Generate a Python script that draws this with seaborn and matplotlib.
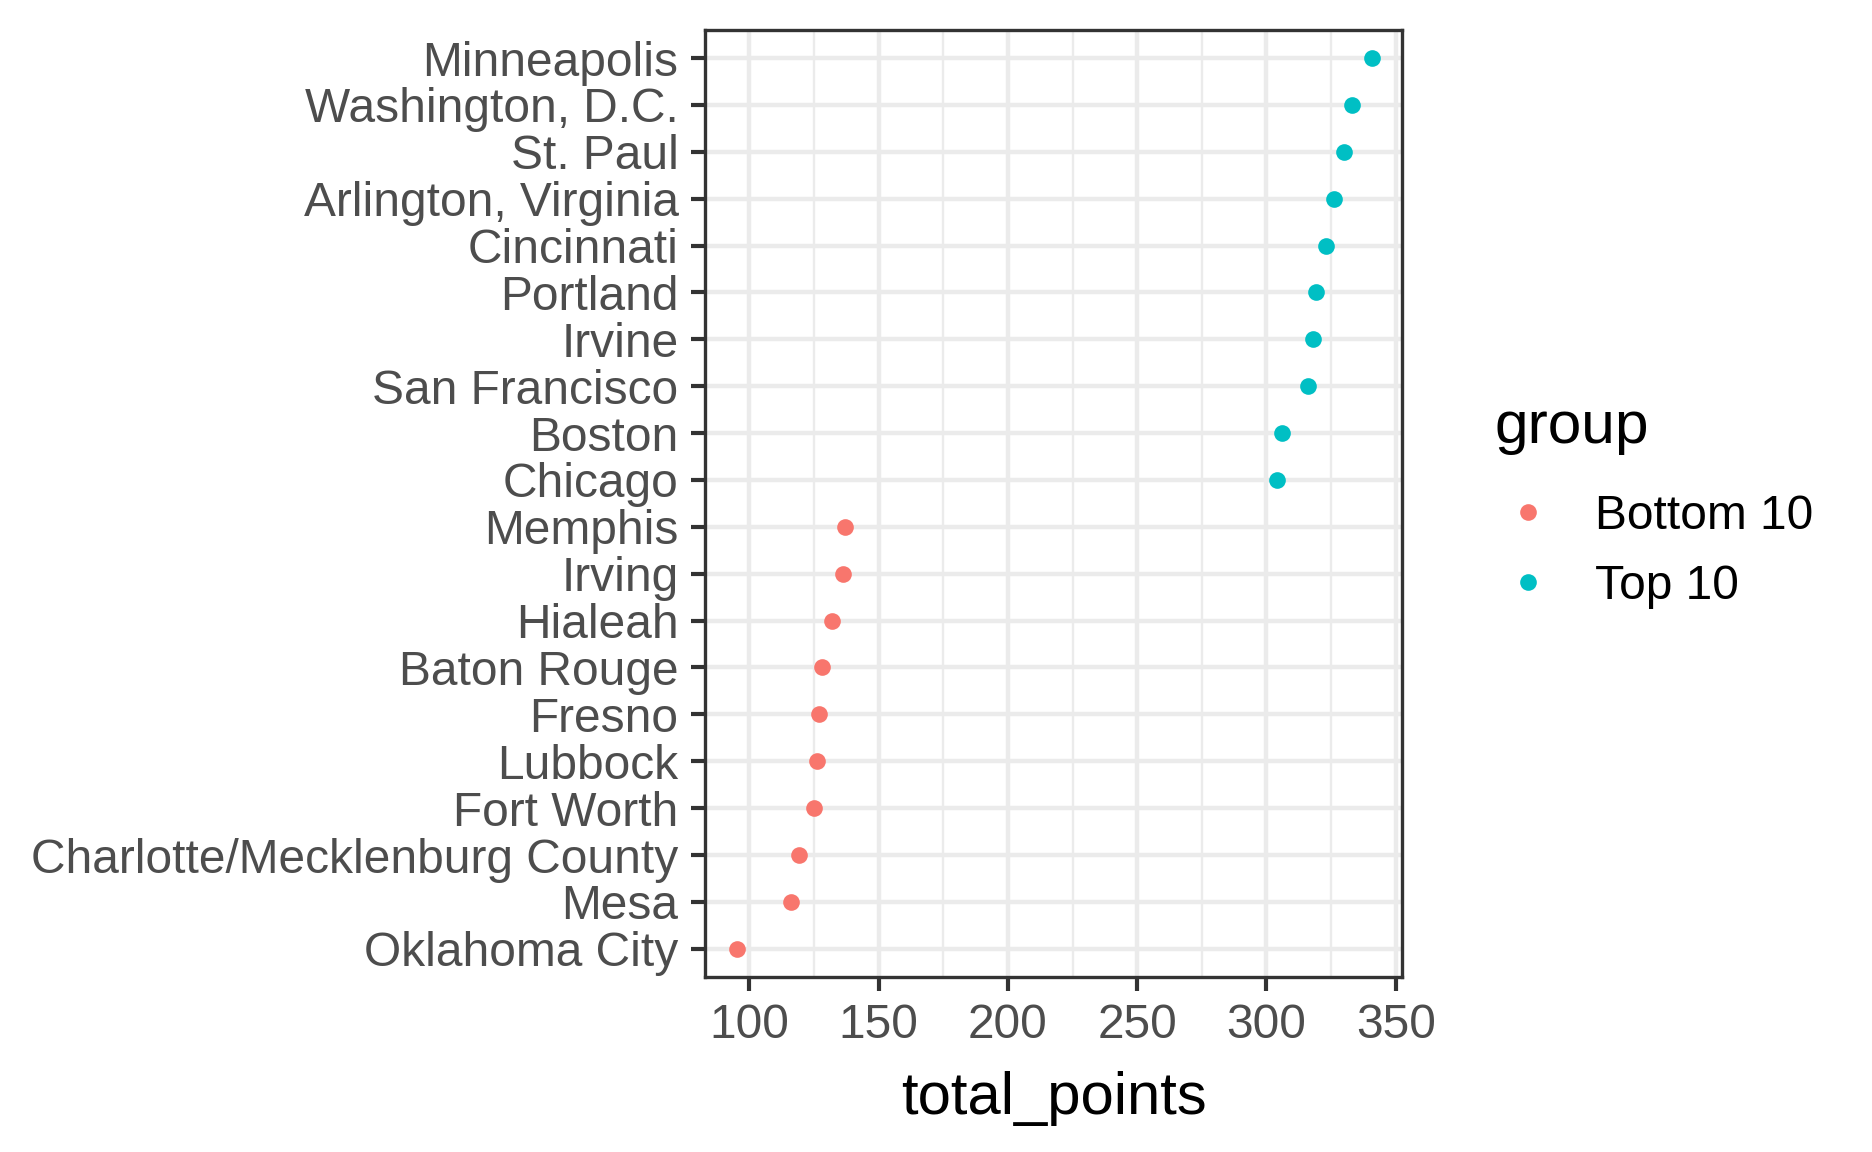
import pandas as pd
import matplotlib
matplotlib.use("Agg")
import matplotlib.pyplot as plt
import seaborn as sns
from matplotlib.ticker import MultipleLocator

# city order, top to bottom
cities = ["Minneapolis", "Washington, D.C.", "St. Paul", "Arlington, Virginia",
          "Cincinnati", "Portland", "Irvine", "San Francisco", "Boston", "Chicago",
          "Memphis", "Irving", "Hialeah", "Baton Rouge", "Fresno", "Lubbock",
          "Fort Worth", "Charlotte/Mecklenburg County", "Mesa", "Oklahoma City"]
total_points = [341, 333, 330, 326, 323, 319, 318, 316, 306, 304,
                137, 136, 132, 128, 127, 126, 125, 119, 116, 95]
groups = ["Top 10"] * 10 + ["Bottom 10"] * 10
group_order = ["Bottom 10", "Top 10"]
palette = {"Bottom 10": "#F8766D", "Top 10": "#00BFC4"}

df = pd.DataFrame({"city": cities, "total_points": total_points, "group": groups})

sns.set_style("white")
plt.rcParams["font.family"] = ["Liberation Sans", "DejaVu Sans"]

fig = plt.figure(figsize=(18.72, 11.52), dpi=100)
ax = fig.add_axes([0.3766, 0.152, 0.3723, 0.822])

sns.stripplot(data=df, x="total_points", y="city", hue="group", order=cities,
              hue_order=group_order, palette=palette, jitter=False, size=12,
              linewidth=0, ax=ax, zorder=3)

n = len(cities)
ax.set_ylim(n - 1 + 0.6, -0.6)
ax.set_xlim(82.8, 352.4)
ax.xaxis.set_major_locator(MultipleLocator(50))
ax.xaxis.set_minor_locator(MultipleLocator(25))

ax.grid(True, which="major", color="#EBEBEB", linewidth=3.2, zorder=0)
ax.grid(True, which="minor", axis="x", color="#EBEBEB", linewidth=1.7, zorder=0)
ax.set_axisbelow(True)

for sp in ax.spines.values():
    sp.set_visible(True)
    sp.set_color("#333333")
    sp.set_linewidth(2.4)

ax.tick_params(axis="both", which="major", length=10, width=3, color="#333333",
               labelsize=34.5, labelcolor="#4D4D4D", pad=9, left=True, bottom=True)
ax.tick_params(axis="x", which="minor", length=0)

ax.set_ylabel("")
ax.set_xlabel("total_points", fontsize=43, color="black", labelpad=16)

# legend: title as its own text, entries below it
handles, labels = ax.get_legend_handles_labels()
for h in handles:
    h.set_markersize(12)
ax.get_legend().remove()
fig.text(0.7986, 0.6155, "group", fontsize=43.5, color="black",
         ha="left", va="baseline")
fig.legend(handles, labels, loc="upper left", bbox_to_anchor=(0.7986, 0.571),
           frameon=False, fontsize=34.5, handlelength=1.39, handletextpad=0.69,
           labelspacing=0.52, borderpad=0, borderaxespad=0, labelcolor="black")

fig.savefig("out.png", dpi=100)
